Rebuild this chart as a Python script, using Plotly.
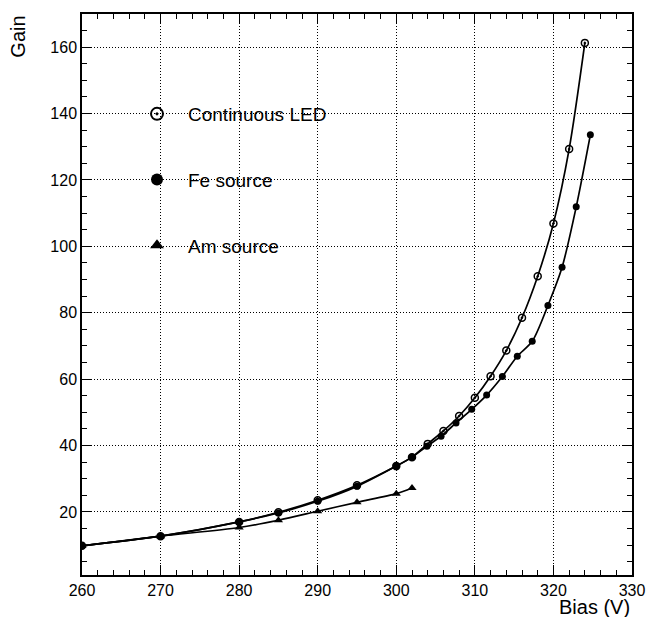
import plotly.graph_objects as go

# ---- data ----
led_bias = [260, 270, 280, 285, 290, 295, 300, 302, 304, 306, 308, 310, 312, 314, 316, 318, 320, 322, 324]
led_gain = [9.8, 12.7, 17.0, 19.9, 23.5, 28.0, 33.8, 36.5, 40.5, 44.4, 48.9, 54.4, 60.9, 68.6, 78.5, 91.0, 106.9, 129.3, 161.3]

fe_bias = [260, 270, 280, 285, 290, 295, 300, 302, 303.9, 305.7, 307.6, 309.6, 311.5, 313.5, 315.4, 317.3, 319.3, 321.1, 322.9, 324.7]
fe_gain = [9.8, 12.7, 17.0, 19.7, 23.2, 27.7, 33.8, 36.5, 39.8, 42.8, 46.8, 50.9, 55.2, 60.8, 66.9, 71.4, 82.2, 93.7, 111.9, 133.6]

am_bias = [260, 270, 280, 285, 290, 295, 300, 302]
am_gain = [9.8, 12.7, 15.3, 17.5, 20.2, 22.9, 25.5, 27.2]

series_names = ["Continuous LED", "Fe source", "Am source"]
x_ticks = [260, 270, 280, 290, 300, 310, 320, 330]
y_ticks = [20, 40, 60, 80, 100, 120, 140, 160]

FONT = "Liberation Sans, Arial, Helvetica, sans-serif"

fig = go.Figure()

series = [
    (led_bias, led_gain, "circle-open-dot", 7, series_names[0]),
    (fe_bias, fe_gain, "circle", 7, series_names[1]),
    (am_bias, am_gain, "triangle-up", 8, series_names[2]),
]

# smooth connecting curves
for bx, gy, sym, sz, nm in series:
    fig.add_trace(go.Scatter(
        x=bx, y=gy, mode="lines",
        line=dict(color="black", width=1.7, shape="spline", smoothing=0.8),
        showlegend=False, hoverinfo="skip",
    ))

# markers (these carry the legend)
for i, (bx, gy, sym, sz, nm) in enumerate(series):
    fig.add_trace(go.Scatter(
        x=bx, y=gy, mode="markers", name=nm, legendgroup=nm,
        marker=dict(symbol=sym, size=sz, color="black",
                    line=dict(color="black", width=1.5 if "open" in sym else 0)),
    ))

axis_common = dict(
    showline=True, linecolor="black", linewidth=1.5, mirror="allticks",
    ticks="inside", tickcolor="black", tickwidth=1.2, ticklen=10,
    showgrid=True, gridcolor="black", gridwidth=1, griddash="1px,2px",
    zeroline=False, automargin=False,
    tickfont=dict(family=FONT, size=16, color="black"),
)

fig.update_xaxes(
    range=[260, 330], tickvals=x_ticks, ticktext=[str(v) for v in x_ticks],
    minor=dict(dtick=2, tick0=260, ticks="inside", ticklen=5, tickcolor="black", showgrid=False),
    **axis_common,
)
fig.update_yaxes(
    range=[1, 170], tickvals=y_ticks, ticktext=[str(v) for v in y_ticks],
    minor=dict(dtick=5, tick0=0, ticks="inside", ticklen=5, tickcolor="black", showgrid=False),
    **axis_common,
)

fig.add_annotation(text="Gain", xref="paper", yref="paper", x=-0.117, y=1.0,
                   xanchor="center", yanchor="top", textangle=-90, showarrow=False,
                   font=dict(family=FONT, size=20, color="black"))
fig.add_annotation(text="Bias (V)", xref="paper", yref="paper", x=1.0, y=-0.0565,
                   xanchor="right", yanchor="middle", showarrow=False,
                   font=dict(family=FONT, size=20, color="black"))

fig.update_layout(
    width=648, height=617, autosize=False,
    margin=dict(l=82, r=16, t=14, b=42, pad=0),
    paper_bgcolor="white", plot_bgcolor="white",
    showlegend=True,
    legend=dict(
        x=0.08, y=0.8556, xanchor="left", yanchor="top",
        bgcolor="rgba(0,0,0,0)", borderwidth=0,
        font=dict(family=FONT, size=19, color="black"),
        itemsizing="constant", itemwidth=52,
        traceorder="grouped", tracegroupgap=38,
    ),
)

fig.write_html("out.html")
